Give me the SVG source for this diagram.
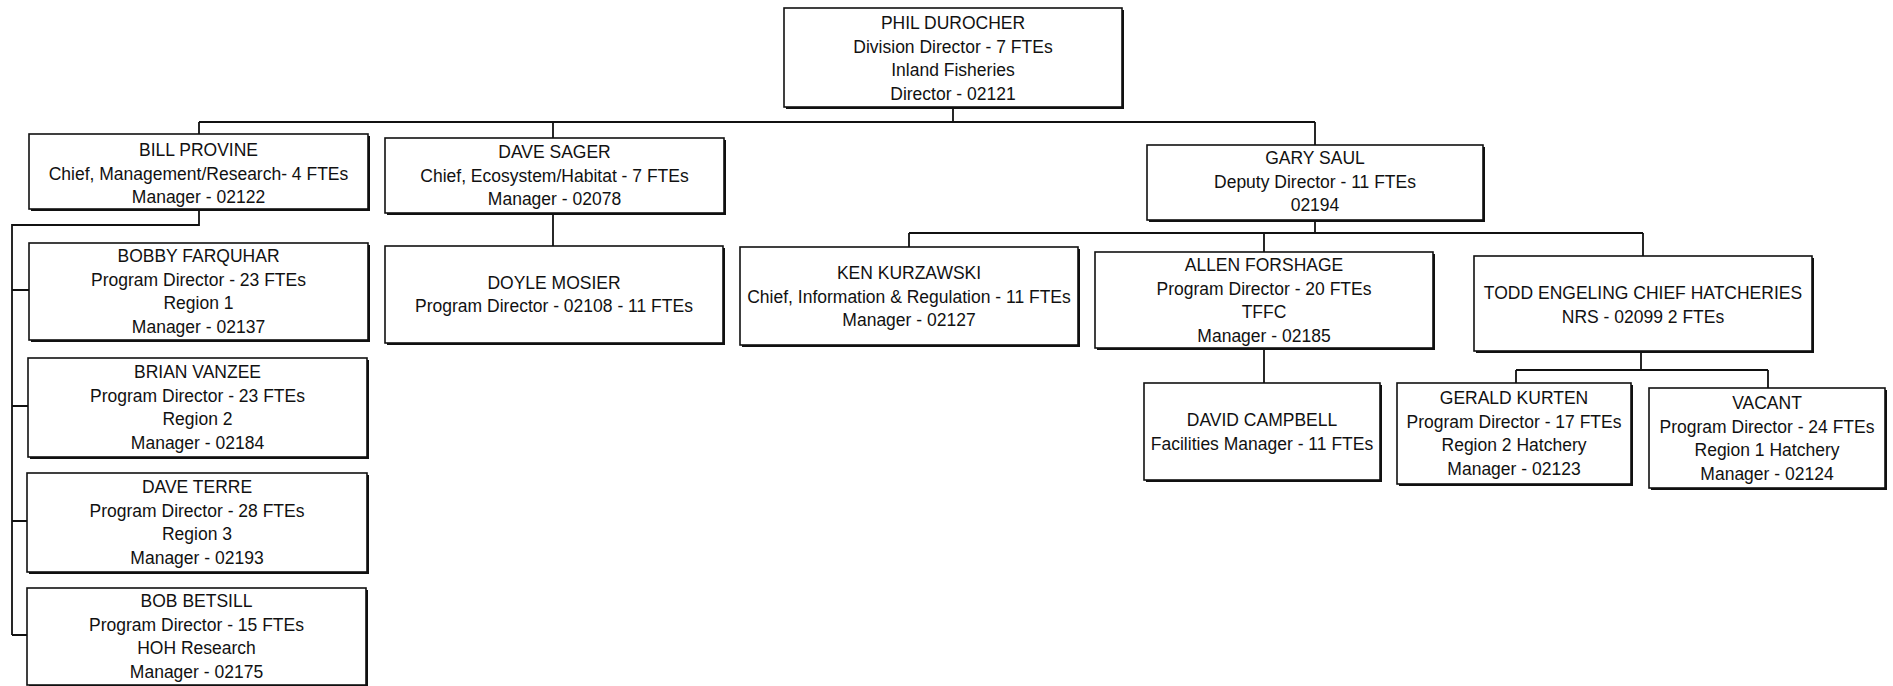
<svg xmlns="http://www.w3.org/2000/svg" width="1893" height="686" viewBox="0 0 1893 686">
<style>
.bg{fill:#fff}
.sh{fill:#111}
.box{fill:#fff;stroke:#111;stroke-width:1.6}
.t{font-family:"Liberation Sans",Arial,sans-serif;font-size:17.5px;fill:#111;text-anchor:middle}
.ln{fill:none;stroke:#111;stroke-width:1.8}
</style>
<rect class="bg" x="0" y="0" width="1893" height="686"/>
<g id="connectors">
<path class="ln" d="M953,107 V122 M199,122 H1315 M199,122 V134 M553,122 V138 M1315,122 V145"/>
<path class="ln" d="M199,209 V225 H12 V635 M12,290 H29 M12,406 H28 M12,521 H27 M12,635 H27"/>
<path class="ln" d="M553,213 V246"/>
<path class="ln" d="M1315,220 V233 M909,233 H1643 M909,233 V247 M1264,233 V252 M1643,233 V256"/>
<path class="ln" d="M1264,348 V383"/>
<path class="ln" d="M1641,351 V370 M1516,370 H1768 M1516,370 V383 M1768,370 V388"/>
</g>
<g id="phil">
<rect class="sh" x="786" y="10" width="338" height="99"/><rect class="box" x="784" y="8" width="338" height="99"/>
<text class="t"><tspan x="953" y="29">PHIL DUROCHER</tspan><tspan x="953" y="52.5">Division Director - 7 FTEs</tspan><tspan x="953" y="76">Inland Fisheries</tspan><tspan x="953" y="99.5">Director - 02121</tspan></text>
</g>
<g id="bill">
<rect class="sh" x="31" y="136" width="339" height="75"/><rect class="box" x="29" y="134" width="339" height="75"/>
<text class="t"><tspan x="198.5" y="156">BILL PROVINE</tspan><tspan x="198.5" y="179.5">Chief, Management/Research- 4 FTEs</tspan><tspan x="198.5" y="203">Manager - 02122</tspan></text>
</g>
<g id="dave-sager">
<rect class="sh" x="387" y="140" width="339" height="75"/><rect class="box" x="385" y="138" width="339" height="75"/>
<text class="t"><tspan x="554.5" y="158">DAVE SAGER</tspan><tspan x="554.5" y="181.5">Chief, Ecosystem/Habitat - 7 FTEs</tspan><tspan x="554.5" y="205">Manager - 02078</tspan></text>
</g>
<g id="gary">
<rect class="sh" x="1149" y="147" width="336" height="75"/><rect class="box" x="1147" y="145" width="336" height="75"/>
<text class="t"><tspan x="1315" y="164">GARY SAUL</tspan><tspan x="1315" y="187.5">Deputy Director - 11 FTEs</tspan><tspan x="1315" y="211">02194</tspan></text>
</g>
<g id="bobby">
<rect class="sh" x="31" y="245" width="339" height="97"/><rect class="box" x="29" y="243" width="339" height="97"/>
<text class="t"><tspan x="198.5" y="262">BOBBY FARQUHAR</tspan><tspan x="198.5" y="285.5">Program Director - 23 FTEs</tspan><tspan x="198.5" y="309">Region 1</tspan><tspan x="198.5" y="332.5">Manager - 02137</tspan></text>
</g>
<g id="brian">
<rect class="sh" x="30" y="360" width="339" height="99"/><rect class="box" x="28" y="358" width="339" height="99"/>
<text class="t"><tspan x="197.5" y="378">BRIAN VANZEE</tspan><tspan x="197.5" y="401.5">Program Director - 23 FTEs</tspan><tspan x="197.5" y="425">Region 2</tspan><tspan x="197.5" y="448.5">Manager - 02184</tspan></text>
</g>
<g id="dave-terre">
<rect class="sh" x="29" y="475" width="340" height="99"/><rect class="box" x="27" y="473" width="340" height="99"/>
<text class="t"><tspan x="197" y="493">DAVE TERRE</tspan><tspan x="197" y="516.5">Program Director - 28 FTEs</tspan><tspan x="197" y="540">Region 3</tspan><tspan x="197" y="563.5">Manager - 02193</tspan></text>
</g>
<g id="bob">
<rect class="sh" x="29" y="590" width="339" height="97"/><rect class="box" x="27" y="588" width="339" height="97"/>
<text class="t"><tspan x="196.5" y="607">BOB BETSILL</tspan><tspan x="196.5" y="630.5">Program Director - 15 FTEs</tspan><tspan x="196.5" y="654">HOH Research</tspan><tspan x="196.5" y="677.5">Manager - 02175</tspan></text>
</g>
<g id="doyle">
<rect class="sh" x="387" y="248" width="338" height="97"/><rect class="box" x="385" y="246" width="338" height="97"/>
<text class="t"><tspan x="554" y="288.5">DOYLE MOSIER</tspan><tspan x="554" y="312">Program Director - 02108 - 11 FTEs</tspan></text>
</g>
<g id="ken">
<rect class="sh" x="742" y="249" width="338" height="98"/><rect class="box" x="740" y="247" width="338" height="98"/>
<text class="t"><tspan x="909" y="279">KEN KURZAWSKI</tspan><tspan x="909" y="302.5">Chief, Information &amp; Regulation - 11 FTEs</tspan><tspan x="909" y="326">Manager - 02127</tspan></text>
</g>
<g id="allen">
<rect class="sh" x="1097" y="254" width="338" height="96"/><rect class="box" x="1095" y="252" width="338" height="96"/>
<text class="t"><tspan x="1264" y="271">ALLEN FORSHAGE</tspan><tspan x="1264" y="294.5">Program Director - 20 FTEs</tspan><tspan x="1264" y="318">TFFC</tspan><tspan x="1264" y="341.5">Manager - 02185</tspan></text>
</g>
<g id="todd">
<rect class="sh" x="1476" y="258" width="338" height="95"/><rect class="box" x="1474" y="256" width="338" height="95"/>
<text class="t"><tspan x="1643" y="299">TODD ENGELING CHIEF HATCHERIES</tspan><tspan x="1643" y="322.5">NRS - 02099 2 FTEs</tspan></text>
</g>
<g id="david">
<rect class="sh" x="1146" y="385" width="236" height="97"/><rect class="box" x="1144" y="383" width="236" height="97"/>
<text class="t"><tspan x="1262" y="426">DAVID CAMPBELL</tspan><tspan x="1262" y="449.5">Facilities Manager - 11 FTEs</tspan></text>
</g>
<g id="gerald">
<rect class="sh" x="1399" y="385" width="234" height="101"/><rect class="box" x="1397" y="383" width="234" height="101"/>
<text class="t"><tspan x="1514" y="404">GERALD KURTEN</tspan><tspan x="1514" y="427.5">Program Director - 17 FTEs</tspan><tspan x="1514" y="451">Region 2 Hatchery</tspan><tspan x="1514" y="474.5">Manager - 02123</tspan></text>
</g>
<g id="vacant">
<rect class="sh" x="1651" y="390" width="236" height="100"/><rect class="box" x="1649" y="388" width="236" height="100"/>
<text class="t"><tspan x="1767" y="409">VACANT</tspan><tspan x="1767" y="432.5">Program Director - 24 FTEs</tspan><tspan x="1767" y="456">Region 1 Hatchery</tspan><tspan x="1767" y="479.5">Manager - 02124</tspan></text>
</g>
</svg>
